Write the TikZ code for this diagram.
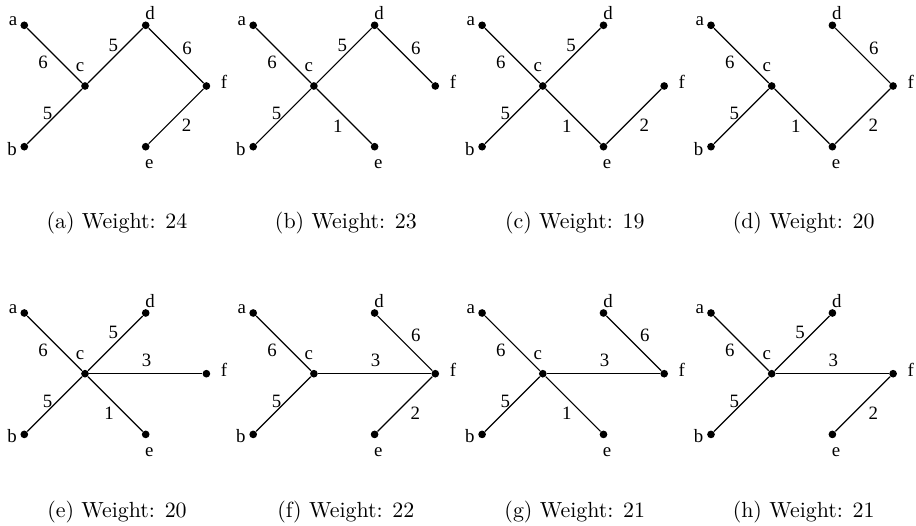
\documentclass[tikz,border=0pt]{standalone}
\usepackage{fontspec}
\newfontfamily\gfont{Liberation Serif}
\newcommand\mkverts[3]{%
 \begin{scope}[shift={(#2,#3)}]
 \node[vert] (#1a) at (-60.7,-60.7) {};
 \node[vert] (#1b) at (-60.7,60.7) {};
 \node[vert] (#1c) at (0,0) {};
 \node[vert] (#1d) at (60.7,-60.7) {};
 \node[vert] (#1e) at (60.7,60.7) {};
 \node[vert] (#1f) at (121.4,0) {};
 \node[vlab] (#1la) at (-72,-64.5) {a};
 \node[vlab] (#1lb) at (-73,62.7) {b};
 \node[vlab] (#1lc) at (-5,-19) {c};
 \node[vlab] (#1ld) at (65.2,-72.5) {d};
 \node[vlab] (#1le) at (64.3,78) {e};
 \node[vlab] (#1lf) at (139,-4) {f};
 \end{scope}}
\begin{document}
\begin{tikzpicture}[x=0.45633pt,y=-0.45633pt,
 vert/.style={circle,fill=black,inner sep=0pt,minimum size=3.5pt},
 vlab/.style={inner sep=0pt,font=\gfont\fontsize{8.6}{10}\selectfont},
 edge/.style={line width=0.55pt},
 elab/.style={inner sep=0pt,font=\gfont\fontsize{8.6}{10}\selectfont},
 lac/.style={elab,xshift=-5.25pt,yshift=-2.97pt},
 lbc/.style={elab,xshift=-3.19pt,yshift=1.37pt},
 lcd/.style={elab,xshift=-0.91pt,yshift=4.79pt},
 ldf/.style={elab,xshift=5.02pt,yshift=3.42pt},
 lef/.style={elab,xshift=4.79pt,yshift=-4.11pt},
 lce/.style={elab,xshift=-2.87pt,yshift=-4.43pt},
 lcf/.style={elab,xshift=0.46pt,yshift=5.93pt},
 capnode/.style={inner sep=0pt,font=\fontsize{10}{12}\selectfont}]
\useasboundingbox (0,0) rectangle (916,526);
% row 1
\mkverts{A}{85}{86}
\mkverts{B}{313.9}{86}
\mkverts{C}{542.8}{86}
\mkverts{D}{771.7}{86}
% row 2
\mkverts{E}{85}{373.7}
\mkverts{F}{313.9}{373.7}
\mkverts{G}{542.8}{373.7}
\mkverts{H}{771.7}{373.7}
% (a)
\draw[edge] (Aa) -- node[lac]{6} (Ac);
\draw[edge] (Ab) -- node[lbc]{5} (Ac);
\draw[edge] (Ac) -- node[lcd]{5} (Ad);
\draw[edge] (Ad) -- node[ldf]{6} (Af);
\draw[edge] (Ae) -- node[lef]{2} (Af);
% (b)
\draw[edge] (Ba) -- node[lac]{6} (Bc);
\draw[edge] (Bb) -- node[lbc]{5} (Bc);
\draw[edge] (Bc) -- node[lcd]{5} (Bd);
\draw[edge] (Bd) -- node[ldf]{6} (Bf);
\draw[edge] (Bc) -- node[lce]{1} (Be);
% (c)
\draw[edge] (Ca) -- node[lac]{6} (Cc);
\draw[edge] (Cb) -- node[lbc]{5} (Cc);
\draw[edge] (Cc) -- node[lcd]{5} (Cd);
\draw[edge] (Cc) -- node[lce]{1} (Ce);
\draw[edge] (Ce) -- node[lef]{2} (Cf);
% (d)
\draw[edge] (Da) -- node[lac]{6} (Dc);
\draw[edge] (Db) -- node[lbc]{5} (Dc);
\draw[edge] (Dc) -- node[lce]{1} (De);
\draw[edge] (De) -- node[lef]{2} (Df);
\draw[edge] (Dd) -- node[ldf]{6} (Df);
% (e)
\draw[edge] (Ea) -- node[lac]{6} (Ec);
\draw[edge] (Eb) -- node[lbc]{5} (Ec);
\draw[edge] (Ec) -- node[lcd]{5} (Ed);
\draw[edge] (Ec) -- node[lcf]{3} (Ef);
\draw[edge] (Ec) -- node[lce]{1} (Ee);
% (f)
\draw[edge] (Fa) -- node[lac]{6} (Fc);
\draw[edge] (Fb) -- node[lbc]{5} (Fc);
\draw[edge] (Fc) -- node[lcf]{3} (Ff);
\draw[edge] (Fd) -- node[ldf]{6} (Ff);
\draw[edge] (Fe) -- node[lef]{2} (Ff);
% (g)
\draw[edge] (Ga) -- node[lac]{6} (Gc);
\draw[edge] (Gb) -- node[lbc]{5} (Gc);
\draw[edge] (Gc) -- node[lcf]{3} (Gf);
\draw[edge] (Gd) -- node[ldf]{6} (Gf);
\draw[edge] (Gc) -- node[lce]{1} (Ge);
% (h)
\draw[edge] (Ha) -- node[lac]{6} (Hc);
\draw[edge] (Hb) -- node[lbc]{5} (Hc);
\draw[edge] (Hc) -- node[lcd]{5} (Hd);
\draw[edge] (Hc) -- node[lcf]{3} (Hf);
\draw[edge] (He) -- node[lef]{2} (Hf);
% captions
\node[capnode] (capa) at (117,223) {(a) Weight: 24};
\node[capnode] (capb) at (345.9,223) {(b) Weight: 23};
\node[capnode] (capc) at (574.8,223) {(c) Weight: 19};
\node[capnode] (capd) at (803.7,223) {(d) Weight: 20};
\node[capnode] (cape) at (117,512) {(e) Weight: 20};
\node[capnode] (capf) at (345.9,512) {(f) Weight: 22};
\node[capnode] (capg) at (574.8,512) {(g) Weight: 21};
\node[capnode] (caph) at (803.7,512) {(h) Weight: 21};
\end{tikzpicture}
\end{document}
